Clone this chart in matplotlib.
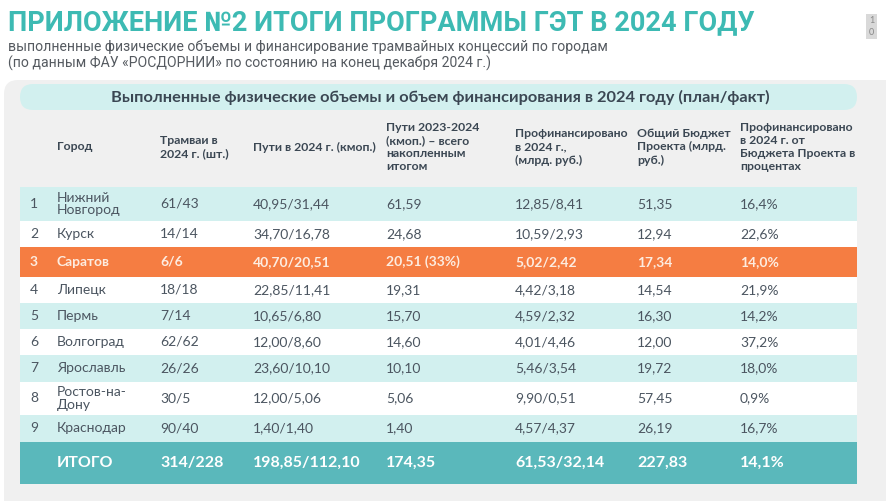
import matplotlib.pyplot as plt
from matplotlib.patches import FancyBboxPatch, Rectangle

# ---- data ----
title = "ПРИЛОЖЕНИЕ №2 ИТОГИ ПРОГРАММЫ ГЭТ В 2024 ГОДУ"
subtitle = ["выполненные физические объемы и финансирование трамвайных концессий по городам",
            "(по данным ФАУ «РОСДОРНИИ» по состоянию на конец декабря 2024 г.)"]
table_title = "Выполненные физические объемы и объем финансирования в 2024 году (план/факт)"

headers = ["Город", "Трамваи в\n2024 г. (шт.)", "Пути в 2024 г. (кмоп.)",
           "Пути 2023-2024\n(кмоп.) – всего\nнакопленным\nитогом",
           "Профинансировано\nв 2024 г.,\n(млрд. руб.)",
           "Общий Бюджет\nПроекта (млрд.\nруб.)",
           "Профинансировано\nв 2024 г. от\nБюджета Проекта в\nпроцентах"]

cities = ["Нижний\nНовгород", "Курск", "Саратов", "Липецк", "Пермь",
          "Волгоград", "Ярославль", "Ростов-на-\nДону", "Краснодар"]
trams = ["61/43", "14/14", "6/6", "18/18", "7/14", "62/62", "26/26", "30/5", "90/40"]
tracks_2024 = ["40,95/31,44", "34,70/16,78", "40,70/20,51", "22,85/11,41", "10,65/6,80",
               "12,00/8,60", "23,60/10,10", "12,00/5,06", "1,40/1,40"]
tracks_total = ["61,59", "24,68", "20,51 (33%)", "19,31", "15,70", "14,60", "10,10", "5,06", "1,40"]
financed = ["12,85/8,41", "10,59/2,93", "5,02/2,42", "4,42/3,18", "4,59/2,32",
            "4,01/4,46", "5,46/3,54", "9,90/0,51", "4,57/4,37"]
budget = ["51,35", "12,94", "17,34", "14,54", "16,30", "12,00", "19,72", "57,45", "26,19"]
percent = ["16,4%", "22,6%", "14,0%", "21,9%", "14,2%", "37,2%", "18,0%", "0,9%", "16,7%"]
total = ["ИТОГО", "314/228", "198,85/112,10", "174,35", "61,53/32,14", "227,83", "14,1%"]
highlight = "Саратов"

# ---- layout ----
col_x = [57, 160, 253, 386, 515, 637, 740]
row_edges = [187, 221, 247, 277, 303, 329, 355, 382, 415, 442]
total_edges = (442, 484)
tab_l, tab_r = 20, 857

teal = "#3dbab3"
light = "#d2f0ef"
orange = "#f57d42"
total_c = "#5ab8bb"
txt = "#4b5560"
hdr = "#3b4753"

plt.rcParams['font.family'] = ['Lato', 'DejaVu Sans']

fig = plt.figure(figsize=(8.86, 5.01), dpi=100)
ax = fig.add_axes([0, 0, 1, 1])
ax.set_xlim(0, 886)
ax.set_ylim(501, 0)
ax.axis("off")

# gray panel
ax.add_patch(FancyBboxPatch((4, 80), 900, 440, boxstyle="round,pad=0,rounding_size=14",
                            fc="#f0f0f0", ec="none"))

# title block
ax.text(8, 23, title, fontsize=19.5, fontweight="bold", color=teal, va="center",
        family=["Roboto", "DejaVu Sans"])
for i, s in enumerate(subtitle):
    ax.text(8, 47 + 16 * i, s, fontsize=10.1, color="#555a60", va="center",
            family=["Roboto", "DejaVu Sans"])

# page mark
ax.add_patch(Rectangle((866, 14), 11, 25, fc="#d9d9d9", ec="none"))
ax.text(871.5, 20, "1", fontsize=6.5, color="#888888", ha="center", va="center")
ax.text(871.5, 32, "0", fontsize=6.5, color="#888888", ha="center", va="center")

# table title pill
ax.add_patch(FancyBboxPatch((tab_l, 84), tab_r - tab_l, 26,
                            boxstyle="round,pad=0,rounding_size=13", fc=light, ec="none"))
ax.text((tab_l + tab_r) / 2 + 2, 97.5, table_title, fontsize=11.8, fontweight="bold",
        color=hdr, ha="center", va="center")

# headers
for x, h in zip(col_x, headers):
    ax.text(x, 147, h, fontsize=8.8, fontweight="bold", color=hdr, va="center",
            linespacing=1.25)

# rows
for i in range(len(cities)):
    y0, y1 = row_edges[i], row_edges[i + 1]
    ym = (y0 + y1) / 2
    if cities[i] == highlight:
        fc, tc, fw = orange, "#fdece0", "bold"
    else:
        fc, tc, fw = (light if i % 2 == 0 else "white"), txt, "normal"
    ax.add_patch(Rectangle((tab_l, y0), tab_r - tab_l, y1 - y0, fc=fc, ec="none"))
    vals = [cities[i], trams[i], tracks_2024[i], tracks_total[i], financed[i], budget[i], percent[i]]
    ax.text(30, ym, str(i + 1), fontsize=10, color=tc, fontweight=fw, va="center")
    for x, v in zip(col_x, vals):
        ax.text(x, ym, v, fontsize=10, color=tc, fontweight=fw, va="center",
                linespacing=1.05)

# total row
ax.add_patch(Rectangle((tab_l, total_edges[0]), tab_r - tab_l,
                       total_edges[1] - total_edges[0], fc=total_c, ec="none"))
for x, v in zip(col_x, total):
    ax.text(x, sum(total_edges) / 2, v, fontsize=11.5, fontweight="bold", color="white",
            va="center")

fig.savefig("out.png", dpi=100)
